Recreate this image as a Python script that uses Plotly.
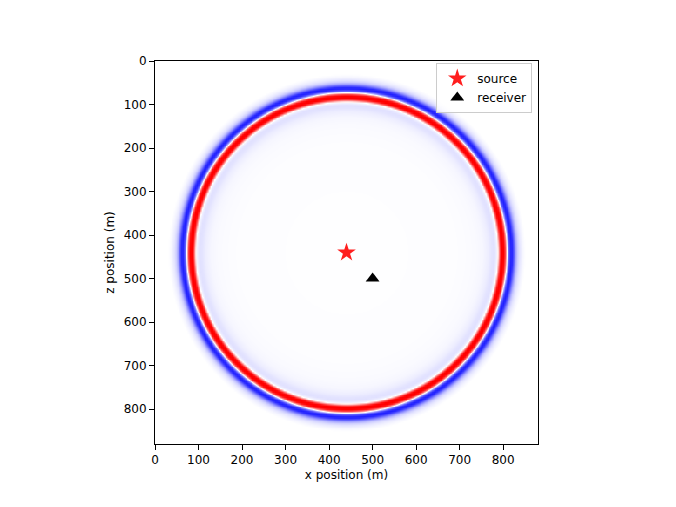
import numpy as np
import plotly.graph_objects as go

# Radial amplitude profile of the wavefront (distance from source in m -> normalized amplitude)
profile_radius = [0, 150, 260, 295, 312, 325, 333, 339, 344, 347, 350, 353, 355, 360, 363, 366, 368, 370, 372, 375, 378, 381, 384, 388, 392, 397, 403, 410, 900]
profile_amplitude = [-0.004, -0.006, -0.01, -0.02, -0.035, -0.07, -0.11, -0.12, -0.06, 0.0, 0.5, 0.9, 1.0, 1.0, 0.88, 0.45, 0.0, -0.3, -0.6, -0.82, -0.88, -0.82, -0.62, -0.37, -0.2, -0.1, -0.04, 0.0, 0.0]

source_x = [440]
source_z = [440]
receiver_x = [500]
receiver_z = [500]

tick_values = [0, 100, 200, 300, 400, 500, 600, 700, 800]
domain_size = 880
grid_step = 4

# Build the wavefield image from the profile
coords = np.arange(0, domain_size + grid_step, grid_step, dtype=float)
XX, ZZ = np.meshgrid(coords, coords)
dist = np.sqrt((XX - source_x[0]) ** 2 + (ZZ - source_z[0]) ** 2)
field = np.interp(dist, profile_radius, profile_amplitude)

fig = go.Figure()
fig.add_trace(go.Heatmap(
    x=coords, y=coords, z=field,
    colorscale=[[0, 'rgb(0,0,255)'], [0.5, 'rgb(255,255,255)'], [1, 'rgb(255,0,0)']],
    zmin=-1, zmax=1, zsmooth='best', showscale=False, hoverinfo='skip', showlegend=False,
))
fig.add_trace(go.Scatter(
    x=source_x, y=source_z, mode='markers', name='source',
    marker=dict(symbol='star', size=14, color='rgb(255,30,30)', line=dict(width=0)),
))
fig.add_trace(go.Scatter(
    x=receiver_x, y=receiver_z, mode='markers', name='receiver',
    marker=dict(symbol='triangle-up', size=12, color='black', line=dict(width=0)),
))

axis_common = dict(
    showgrid=False, zeroline=False, showline=True, linecolor='black', linewidth=1,
    mirror=True, ticks='outside', ticklen=5, tickcolor='black', tickvals=tick_values,
    tickfont=dict(family='DejaVu Sans', size=12, color='black'),
    title_font=dict(family='DejaVu Sans', size=12, color='black'),
)
fig.update_layout(
    width=668, height=499,
    margin=dict(l=147, r=138, t=53, b=63),
    paper_bgcolor='white', plot_bgcolor='white',
    font=dict(family='DejaVu Sans', size=12, color='black'),
    xaxis=dict(range=[0, domain_size], title=dict(text='x position (m)', standoff=4), **axis_common),
    yaxis=dict(range=[domain_size, 0], title=dict(text='z position (m)', standoff=6), **axis_common),
    legend=dict(x=0.985, y=0.995, xanchor='right', yanchor='top',
                bgcolor='rgba(255,255,255,0.8)', bordercolor='#cccccc', borderwidth=1,
                font=dict(family='DejaVu Sans', size=12), tracegroupgap=0, itemsizing='trace'),
)
fig.write_html('out.html')
